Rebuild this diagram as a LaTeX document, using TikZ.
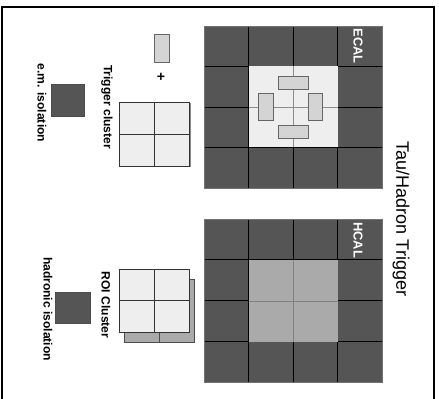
\documentclass[tikz,border=0pt]{standalone}
\usepackage{fontspec}
\setmainfont{Liberation Sans}
\usepackage{xcolor}
\definecolor{towerdark}{HTML}{555555}
\definecolor{towerlight}{HTML}{EEEEEE}
\definecolor{towermid}{HTML}{AAAAAA}
\definecolor{stripfill}{HTML}{D4D4D4}

\begin{document}
\begin{tikzpicture}[
    x=0.03cm, y=-0.03cm,
    font=\bfseries\fontsize{10.3}{12}\selectfont,
    cell/.style={fill=towerdark, draw=black, line width=0.5pt},
    outline/.style={draw=black!55, line width=0.8pt},
    strip/.style={fill=stripfill, draw=black!60, line width=0.6pt},
    lightbox/.style={fill=towerlight, draw=black!80, line width=0.6pt},
    isobox/.style={fill=towerdark, draw=black!70, line width=0.6pt},
    vlabel/.style={rotate=-90, inner sep=0pt},
    calname/.style={vlabel, text=white, font=\bfseries\fontsize{11}{12}\selectfont}
  ]
    \useasboundingbox (0,0) rectangle (439,399);
    % frame
    \draw[line width=0.9pt] (2,405) -- (2,7) -- (434,7) -- (434,405);

    % ECAL towers
    \foreach \i in {0,...,3}
      \foreach \j in {0,...,3}
        \draw[cell] (204+44.5*\i,26+40.5*\j) rectangle ++(44.5,40.5);
    \fill[towerlight] (248.5,66.5) rectangle (337.5,147);
    \draw[black!45, line width=0.8pt] (293,66.5) -- (293,147) (248.5,107) -- (337.5,107);
    \draw[outline] (204,26) rectangle (382,188);
    \draw[strip] (278,76) rectangle (308,89);
    \draw[strip] (278,125) rectangle (308,138);
    \draw[strip] (258,93) rectangle (273,120);
    \draw[strip] (308,93) rectangle (322,120);
    \node[calname] (ecal) at (358,46) {ECAL};

    % HCAL towers
    \foreach \i in {0,...,3}
      \foreach \j in {0,...,3}
        \draw[cell] (204+44.5*\i,219+40.75*\j) rectangle ++(44.5,40.75);
    \fill[towermid] (248.5,260) rectangle (337.5,342);
    \draw[black!50, line width=0.8pt] (293,260) -- (293,342) (248.5,301) -- (337.5,301);
    \draw[outline] (204,219) rectangle (382,382);
    \node[calname] (hcal) at (358,240) {HCAL};

    % trigger cluster
    \fill[black!45] (120.5,103.5) rectangle (190.5,167.5);
    \draw[lightbox] (119,102) rectangle (189,166);
    \draw[black!80, line width=0.6pt] (154,102) -- (154,166) (119,134) -- (189,134);
    \draw[strip] (154,34) rectangle (169,62);
    \node[font=\bfseries\fontsize{12}{12}\selectfont] (plus) at (161,77) {+};
    \node[vlabel] (trigcl) at (107,107) {Trigger cluster};

    % ROI cluster
    \draw[fill=towermid, draw=black!70, line width=0.6pt] (124,279) rectangle (194,342);
    \draw[black!70, line width=0.6pt] (159,332) -- (159,342);
    \draw[lightbox] (119,269) rectangle (189,332);
    \draw[black!80, line width=0.6pt] (154,269) -- (154,332) (119,300) -- (189,300);
    \node[vlabel] (roicl) at (106,305) {ROI Cluster};

    % isolation
    \draw[isobox] (51,84) rectangle (84,116);
    \node[vlabel] (emiso) at (42,103) {e.m. isolation};
    \draw[isobox] (55,292) rectangle (90,323);
    \node[vlabel] (hadiso) at (48,309) {hadronic isolation};

    % title
    \node[vlabel, font=\fontsize{15.4}{16}\selectfont] (title) at (401,219) {Tau/Hadron Trigger};
\end{tikzpicture}
\end{document}
